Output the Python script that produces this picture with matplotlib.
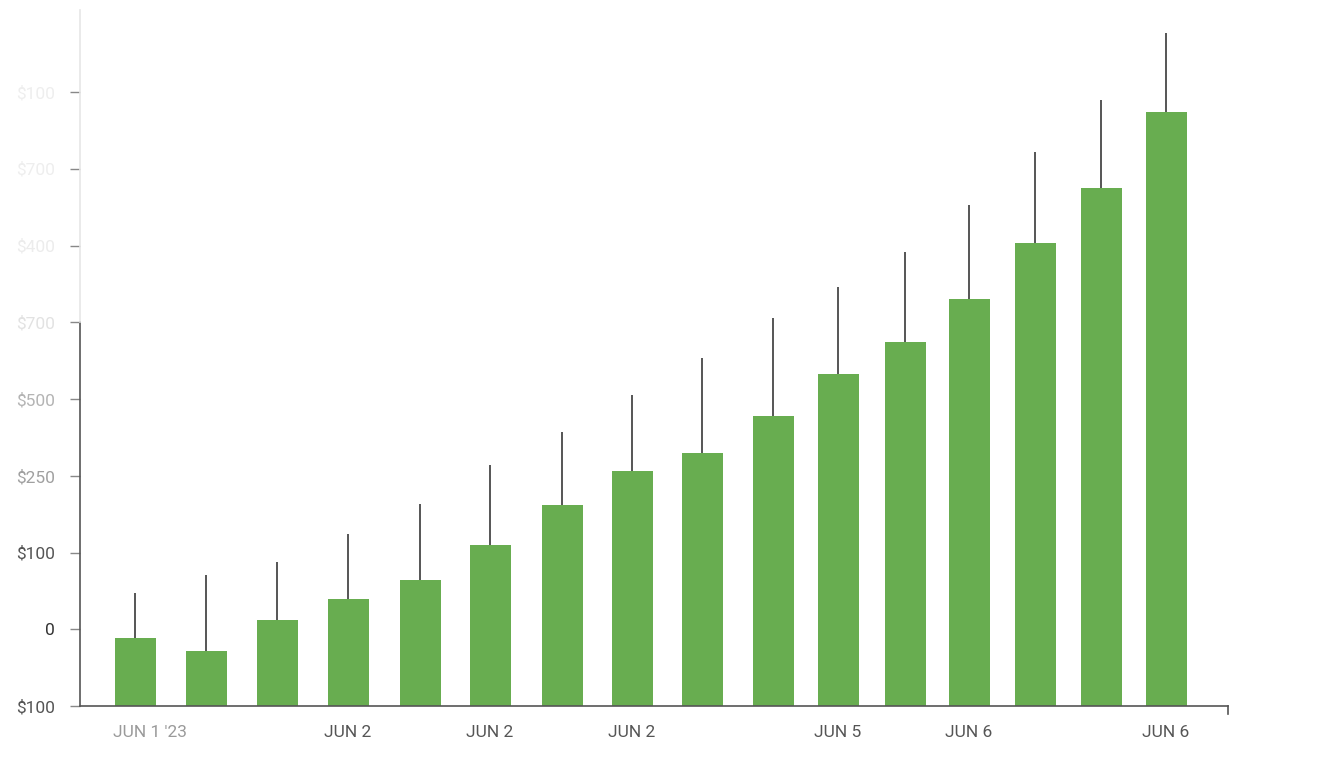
import matplotlib
matplotlib.use("Agg")
import matplotlib.pyplot as plt
import numpy as np

# day positions of the bars along the x axis (chart pixel units)
days = [135, 206, 277, 348, 420, 490, 562, 632, 702, 773, 838, 905, 969, 1035, 1101, 1166]
# bar tops and wick tops, in tick steps above the bottom gridline
bar_top = [0.89, 0.72, 1.12, 1.39, 1.64, 2.10, 2.62, 3.06, 3.30, 3.78, 4.33, 4.74, 5.30, 6.03, 6.75, 7.74]
wick_top = [1.47, 1.71, 1.88, 2.24, 2.63, 3.14, 3.57, 4.05, 4.53, 5.06, 5.46, 5.92, 6.53, 7.22, 7.90, 8.77]

y_labels = ["$100", "0", "$100", "$250", "$500", "$700", "$400", "$700", "$100"]
y_label_colors = ["#555555", "#333333", "#555555", "#a0a0a0", "#b4b4b4",
                  "#e2e2e2", "#ececec", "#eeeeee", "#eeeeee"]
x_label_pos = [150, 348, 490, 632, 838, 969, 1166]
x_labels = ["JUN 1 '23", "JUN 2", "JUN 2", "JUN 2", "JUN 5", "JUN 6", "JUN 6"]

plt.rcParams['font.family'] = ['Roboto', 'DejaVu Sans']

fig = plt.figure(figsize=(13.44, 7.68), dpi=100)
ax = fig.add_axes([80 / 1344, 62 / 768, (1228 - 80) / 1344, 696 / 768])

green = "#68ad50"
ax.bar(days, bar_top, width=41, color=green, zorder=2)
ax.vlines(days, bar_top, wick_top, color="#555555", lw=1.4, zorder=1)

ax.set_xlim(80, 1228)
ax.set_ylim(0, 696 / 76.75)

for s in ["top", "right", "left"]:
    ax.spines[s].set_visible(False)
ax.spines["bottom"].set_color("#555555")
ax.spines["bottom"].set_linewidth(1.2)

# left axis line, dark at the bottom and fading out higher up
ax.plot([80, 80], [0, 5], color="#555555", lw=1.2, clip_on=False)
ax.plot([80, 80], [5, 9.07], color="#e6e6e6", lw=1.2, clip_on=False)
# little end tick on the right of the x axis
ax.plot([1228, 1228], [0, -0.11], color="#555555", lw=1.2, clip_on=False)

ax.set_yticks(range(len(y_labels)))
ax.set_yticklabels(y_labels, fontsize=12.5)
for lab, c in zip(ax.get_yticklabels(), y_label_colors):
    lab.set_color(c)
ax.tick_params(axis="y", length=7, width=1.0, color="#888888", pad=11)

ax.set_xticks(x_label_pos)
ax.set_xticklabels(x_labels, fontsize=12.5, color="#555555")
ax.get_xticklabels()[0].set_color("#9a9a9a")
ax.tick_params(axis="x", length=0, pad=14)

fig.savefig("out.png", dpi=100)
